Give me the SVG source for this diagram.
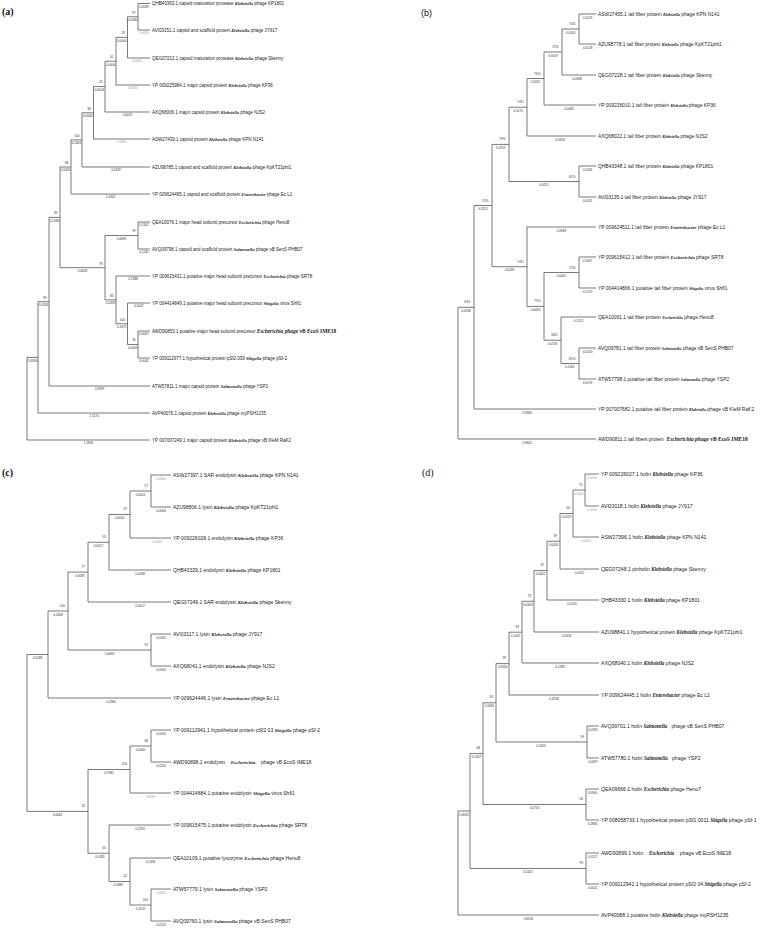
<svg xmlns="http://www.w3.org/2000/svg" width="762" height="928" viewBox="0 0 762 928">
<style>
.ln{fill:none;stroke:#555;stroke-width:0.8}
.tip{font-family:"Liberation Sans",Arial,sans-serif;fill:#222}
.ta{font-size:4.5px}.tb{font-size:4.9px}.tc{font-size:5px}.td{font-size:5.1px}
.g{font-family:"Liberation Serif","Times New Roman",serif;font-style:italic;font-weight:bold}
.gs{font-size:4.2px}
.gl{font-size:5.4px}
.r{font-family:"Liberation Serif","Times New Roman",serif;font-weight:bold}
.bs,.bl{font-family:"Liberation Sans",Arial,sans-serif;font-size:3.2px;fill:#333}
.bl{text-anchor:middle}.bs{text-anchor:end}
.z{fill:#999}
.pl{font-family:"Liberation Serif","Times New Roman",serif;font-size:10px;font-weight:bold;fill:#111}
.pls{font-family:"Liberation Sans",Arial,sans-serif;font-size:9px;fill:#111}
</style>
<rect width="762" height="928" fill="#fff"/>
<text class="pl" x="2" y="15">(a)</text>
<text class="pls" x="421" y="16">(b)</text>
<text class="pl" x="2" y="476">(c)</text>
<text class="pl" x="422" y="476" style="font-weight:normal">(d)</text>

<g id="connectors">
<path class="ln" d="M138 3.5H150M138 30H150M127.5 16.75H138M127.5 58H150M116 37.4H127.5M116 85H150M105 61.2H116M105 112H150M93.5 86.6H105M93.5 139H150M82 112.8H93.5M82 167H150M71 139.9H82M71 194H150M60 167H71M138 222H150M138 249H150M105 235.5H138M116 276H150M127.5 303H150M138 331H150M138 358H150M127.5 344.5H138M116 323.75H127.5M105 299.9H116M60 267.7H105M49 217.4H60M49 386H150M38 301.7H49M38 413H150M27 357.4H38M27 440H150
M138 3.5V30M127.5 16.75V58M116 37.4V85M105 61.2V112M93.5 86.6V139M82 112.8V167M71 139.9V194M138 222V249M138 331V358M127.5 303V344.5M116 276V323.75M105 235.5V299.9M60 167V267.7M49 217.4V386M38 301.7V413M27 357.4V440"/>
<path class="ln" d="M579 14H596M579 44H596M562 29H579M562 75H596M544 52H562M544 105H596M527 78.5H544M527 136H596M509 107.25H527M579 166H596M579 197H596M509 181.5H579M492 144.4H509M527 227H596M579 257H596M579 288H596M544 272.5H579M561 317H596M579 348H596M579 379H596M561 363.5H579M544 340.25H561M527 306.4H544M492 266.7H527M474 205.5H492M474 409H596M458 307.3H474M458 439H596
M579 14V44M562 29V75M544 52V105M527 78.5V136M579 166V197M509 107.25V181.5M579 257V288M579 348V379M561 317V363.5M544 272.5V340.25M527 227V306.4M492 144.4V266.7M474 205.5V409M458 307.3V439"/>
<path class="ln" d="M151 475H171M151 507H171M130 491H151M130 538H171M109 514.5H130M109 570H171M88 542.25H109M88 602H171M68 572.1H88M151 634H171M151 666H171M68 650H151M48 611H68M48 698H171M27 654.5H48M151 730H171M151 762H171M130 746H151M130 793H171M88 769.5H130M109 825H171M130 858H171M151 889H171M151 921H171M130 905H151M109 881.5H130M88 853.25H109M27 811.4H88
M151 475V507M130 491V538M109 514.5V570M88 542.25V602M151 634V666M68 572.1V650M48 611V698M151 730V762M130 746V793M151 889V921M130 858V905M109 825V881.5M88 769.5V853.25M27 654.5V811.4"/>
<path class="ln" d="M585 474H599M585 506H599M573 490H585M573 537H599M560 513.5H573M560 569H599M547 541.25H560M547 600H599M534 570.6H547M534 632H599M522 601.3H534M522 663H599M509 632.2H522M509 695H599M496 663.6H509M587 726H599M587 758H599M496 742H587M483 702.8H496M586 789H599M586 820H599M483 804.5H586M470 753.6H483M586 853H599M586 884H599M470 868.5H586M458 811H470M458 915H599
M585 474V506M573 490V537M560 513.5V569M547 541.25V600M534 570.6V632M522 601.3V663M509 632.2V695M587 726V758M496 663.6V742M586 789V820M483 702.8V804.5M586 853V884M470 753.6V868.5M458 811V915"/>
</g>

<g id="labels-a">
<text class="bs" x="135.5" y="13.5">97</text><text class="bs" x="125" y="34.2">29</text><text class="bs" x="113.5" y="58">41</text><text class="bs" x="102.5" y="83.4">42</text><text class="bs" x="91" y="109.6">66</text><text class="bs" x="79.5" y="136.7">100</text><text class="bs" x="68.5" y="163.8">86</text><text class="bs" x="57.5" y="214.2">89</text><text class="bs" x="135.5" y="232.3">99</text><text class="bs" x="102.5" y="264.5">78</text><text class="bs" x="113.5" y="296.7">83</text><text class="bs" x="125" y="320.5">100</text><text class="bs" x="135.5" y="341.3">76</text><text class="bs" x="46.5" y="298.5">39</text>
<text class="bl" x="144" y="7.8">0.0039</text><text class="bl z" x="144" y="34.3">0.0000</text><text class="bl" x="132.75" y="21">0.0080</text><text class="bl z" x="137" y="62.3">0.0000</text><text class="bl" x="121.75" y="41.7">0.0000</text><text class="bl z" x="133" y="89.3">0.0000</text><text class="bl" x="110.5" y="65.5">0.0004</text><text class="bl" x="127.5" y="116.3">0.0022</text><text class="bl" x="99.25" y="90.9">0.0004</text><text class="bl z" x="121.75" y="143.3">0.0000</text><text class="bl" x="87.75" y="117.1">0.0066</text><text class="bl" x="116" y="171.3">0.0149</text><text class="bl" x="76.5" y="144.2">0.2463</text><text class="bl" x="110.5" y="198.3">0.2402</text><text class="bl" x="65.5" y="171.3">0.0300</text><text class="bl" x="144" y="226.3">0.1302</text><text class="bl" x="144" y="253.3">0.1240</text><text class="bl" x="121.5" y="239.8">0.0839</text><text class="bl" x="133" y="280.3">0.1388</text><text class="bl" x="138.75" y="307.3">0.0047</text><text class="bl" x="144" y="335.3">0.0067</text><text class="bl" x="144" y="362.3">0.0041</text><text class="bl" x="132.75" y="348.8">0.0063</text><text class="bl" x="121.75" y="328">0.1672</text><text class="bl" x="110.5" y="304.2">0.0392</text><text class="bl" x="82.5" y="272">0.0633</text><text class="bl" x="54.5" y="221.7">0.2566</text><text class="bl" x="99.5" y="390.3">0.9969</text><text class="bl" x="43.5" y="306">0.0163</text><text class="bl" x="94" y="417.3">1.1174</text><text class="bl" x="32.5" y="361.7">0.0356</text><text class="bl" x="88.5" y="444.3">1.1830</text>
</g>
<g id="a-KP1801"><text class="tip ta" x="152" y="5.1">QHB43363.1 capsid maturation protease <tspan class="g">Klebsiella</tspan> phage KP1801</text></g>
<g id="a-JY917"><text class="tip ta" x="152" y="31.6">AVI03151.1 capsid and scaffold protein <tspan class="g">Klebsiella</tspan> phage JY917</text></g>
<g id="a-Skenny"><text class="tip ta" x="152" y="59.6">QEG07212.1 capsid maturation protease <tspan class="g">Klebsiella</tspan> phage Skenny</text></g>
<g id="a-KP36"><text class="tip ta" x="152" y="86.6">YP 009225984.1 major capsid protein <tspan class="g">Klebsiella</tspan> phage KP36</text></g>
<g id="a-NJS2"><text class="tip ta" x="152" y="113.6">AXQ68006.1 major capsid protein <tspan class="g">Klebsiella</tspan> phage NJS2</text></g>
<g id="a-KPNN141"><text class="tip ta" x="152" y="140.6">ASW27439.1 capsid protein <tspan class="g">Klebsiella</tspan> phage KPN N141</text></g>
<g id="a-KpKT21phi1"><text class="tip ta" x="152" y="168.6">AZU98785.1 capsid and scaffold protein <tspan class="g">Klebsiella</tspan> phage KpKT21phi1</text></g>
<g id="a-EcL1"><text class="tip ta" x="152" y="195.6">YP 009624495.1 capsid and scaffold protein <tspan class="g">Enterobacter</tspan> phage Ec L1</text></g>
<g id="a-Henu8"><text class="tip ta" x="152" y="223.6">QEA10076.1 major head subunit precursor <tspan class="g">Escherichia</tspan> phage Henu8</text></g>
<g id="a-PHB07"><text class="tip ta" x="152" y="250.6">AVQ09798.1 capsid and scaffold protein <tspan class="g">Salmonella</tspan> phage vB SenS PHB07</text></g>
<g id="a-SRT8"><text class="tip ta" x="152" y="277.6">YP 009615431.1 putative major head subunit precursor <tspan class="g">Escherichia</tspan> phage SRT8</text></g>
<g id="a-Shfl1"><text class="tip ta" x="152" y="304.6">YP 004414849.1 putative major head subunit precursor <tspan class="g">Shigella</tspan> virus Shfl1</text></g>
<g id="a-IME18"><text class="tip ta" x="152" y="332.6">AWD90853.1 putative major head subunit precursor <tspan class="g gl">Escherichia phage</tspan> <tspan class="r gl">vB EcoS IME18</tspan></text></g>
<g id="a-pSf2"><text class="tip ta" x="152" y="359.6">YP 009112977.1 hypothetical protein pSf2 039 <tspan class="g">Shigella</tspan> phage pSf-2</text></g>
<g id="a-YSP2"><text class="tip ta" x="152" y="387.6">ATW57811.1 major capsid protein <tspan class="g">Salmonella</tspan> phage YSP2</text></g>
<g id="a-myPSH1235"><text class="tip ta" x="152" y="414.6">AVP40076.1 capsid protein <tspan class="g">Klebsiella</tspan> phage myPSH1235</text></g>
<g id="a-RaK2"><text class="tip ta" x="152" y="441.6">YP 007007249.1 major capsid protein <tspan class="g">Klebsiella</tspan> phage vB KleM RaK2</text></g>

<g id="labels-b">
<text class="bs" x="575.5" y="25">74%</text><text class="bs" x="558.5" y="48">72%</text><text class="bs" x="540.5" y="74.5">76%</text><text class="bs" x="523.5" y="103.2">74%</text><text class="bs" x="575.5" y="177.5">81%</text><text class="bs" x="505.5" y="140.4">79%</text><text class="bs" x="575.5" y="268.5">72%</text><text class="bs" x="575.5" y="359.5">81%</text><text class="bs" x="557.5" y="336.2">34%</text><text class="bs" x="540.5" y="302.4">75%</text><text class="bs" x="523.5" y="262.7">74%</text><text class="bs" x="488.5" y="201.5">55%</text><text class="bs" x="470.5" y="303.3">33%</text>
<text class="bl" x="587.5" y="18.5">0.0129</text><text class="bl" x="587.5" y="48.5">0.0128</text><text class="bl" x="570.5" y="33.5">0.0163</text><text class="bl" x="577" y="79.5">0.0268</text><text class="bl" x="553" y="56.5">0.0019</text><text class="bl" x="569" y="109.5">0.0482</text><text class="bl" x="535.5" y="83">0.0025</text><text class="bl" x="560" y="140.5">0.0318</text><text class="bl" x="518" y="111.75">0.0170</text><text class="bl" x="587.5" y="170.5">0.0206</text><text class="bl" x="587.5" y="201.5">0.0201</text><text class="bl" x="544" y="186">0.0252</text><text class="bl" x="500.5" y="148.9">0.2922</text><text class="bl" x="561.5" y="231.5">0.2683</text><text class="bl" x="587.5" y="261.5">0.1667</text><text class="bl" x="587.5" y="292.5">0.1713</text><text class="bl" x="561.5" y="277">0.0410</text><text class="bl" x="578.5" y="321.5">0.1512</text><text class="bl" x="587.5" y="352.5">0.0145</text><text class="bl" x="587.5" y="383.5">0.0178</text><text class="bl" x="570" y="368">0.1361</text><text class="bl" x="552.5" y="344.75">0.0133</text><text class="bl" x="535.5" y="310.9">0.0403</text><text class="bl" x="509.5" y="271.2">0.0239</text><text class="bl" x="483" y="210">0.3212</text><text class="bl" x="527" y="413.5">0.9366</text><text class="bl" x="466" y="311.8">0.0236</text><text class="bl" x="527" y="443.5">0.9602</text>
</g>
<g id="b-KPNN141"><text class="tip tb" x="598" y="15.7">ASW27455.1 tail fiber protein <tspan class="g gs">Klebsiella</tspan> phage KPN N141</text></g>
<g id="b-KpKT21phi1"><text class="tip tb" x="598" y="45.7">AZU98778.1 tail fiber protein <tspan class="g gs">Klebsiella</tspan> phage KpKT21phi1</text></g>
<g id="b-Skenny"><text class="tip tb" x="598" y="76.7">QEG07228.1 tail fiber protein <tspan class="g gs">Klebsiella</tspan> phage Skenny</text></g>
<g id="b-KP36"><text class="tip tb" x="598" y="106.7">YP 009226010.1 tail fiber protein <tspan class="g gs">Klebsiella</tspan> phage KP36</text></g>
<g id="b-NJS2"><text class="tip tb" x="598" y="137.7">AXQ68022.1 tail fiber protein <tspan class="g gs">Klebsiella</tspan> phage NJS2</text></g>
<g id="b-KP1801"><text class="tip tb" x="598" y="167.7">QHB43348.1 tail fiber protein <tspan class="g gs">Klebsiella</tspan> phage KP1801</text></g>
<g id="b-JY917"><text class="tip tb" x="598" y="198.7">AVI03135.1 tail fiber protein <tspan class="g gs">Klebsiella</tspan> phage JY917</text></g>
<g id="b-EcL1"><text class="tip tb" x="598" y="228.7">YP 009624511.1 tail fiber protein <tspan class="g">Enterobacter</tspan> phage Ec L1</text></g>
<g id="b-SRT8"><text class="tip tb" x="598" y="258.7">YP 009615412.1 tail fiber protein <tspan class="g">Escherichia</tspan> phage SRT8</text></g>
<g id="b-Shfl1"><text class="tip tb" x="598" y="289.7">YP 004414866.1 putative tail fiber protein <tspan class="g gs">Shigella</tspan> virus Shfl1</text></g>
<g id="b-Henu8"><text class="tip tb" x="598" y="318.7">QEA10091.1 tail fiber protein <tspan class="g gs">Escherichia</tspan> phage Henu8</text></g>
<g id="b-PHB07"><text class="tip tb" x="598" y="349.7">AVQ09781.1 tail fiber protein <tspan class="g gs">Salmonella</tspan> phage vB SenS PHB07</text></g>
<g id="b-YSP2"><text class="tip tb" x="598" y="380.7">ATW57798.1 putative tail fiber protein <tspan class="g gs">Salmonella</tspan> phage YSP2</text></g>
<g id="b-RaK2"><text class="tip tb" x="598" y="410.7">YP 007007682.1 putative tail fiber protein <tspan class="g gs">Klebsiella</tspan> phage vB KleM RaK2</text></g>
<g id="b-IME18"><text class="tip tb" x="598" y="440.7" style="white-space:pre">AWD90811.1 tail fibers protein  <tspan class="g" style="font-size:5.5px">Escherichia phage</tspan> <tspan class="r" style="font-size:5.5px">vB EcoS IME18</tspan></text></g>

<g id="labels-c">
<text class="bs" x="148" y="486.5">17</text><text class="bs" x="127" y="510">27</text><text class="bs" x="106" y="537.75">55</text><text class="bs" x="85" y="567.6">77</text><text class="bs" x="148" y="645.5">92</text><text class="bs" x="65" y="606.5">100</text><text class="bs" x="148" y="741.5">68</text><text class="bs" x="127" y="765">100</text><text class="bs" x="148" y="900.5">100</text><text class="bs" x="127" y="877">52</text><text class="bs" x="106" y="848.75">45</text><text class="bs" x="85" y="806.9">53</text>
<text class="bl z" x="161" y="479.5">0.0000</text><text class="bl" x="161" y="511.5">0.0064</text><text class="bl" x="140.5" y="495.5">0.0001</text><text class="bl z" x="157" y="542.5">0.0000</text><text class="bl" x="119.5" y="519">0.0004</text><text class="bl" x="140" y="574.5">0.0038</text><text class="bl" x="98.5" y="546.75">0.0017</text><text class="bl" x="140" y="606.5">0.0107</text><text class="bl" x="80" y="576.6">0.0087</text><text class="bl" x="161" y="638.5">0.0002</text><text class="bl" x="161" y="670.5">0.0050</text><text class="bl" x="109.5" y="654.5">0.0092</text><text class="bl" x="58" y="615.5">0.2408</text><text class="bl" x="111" y="702.5">0.2384</text><text class="bl" x="37.5" y="659">0.0188</text><text class="bl" x="161" y="734.5">0.0026</text><text class="bl" x="161" y="766.5">0.0224</text><text class="bl" x="140.5" y="750.5">0.0065</text><text class="bl z" x="150.5" y="797.5">0.0000</text><text class="bl" x="109" y="774">0.1981</text><text class="bl" x="140" y="829.5">0.2294</text><text class="bl" x="150.5" y="862.5">0.1336</text><text class="bl z" x="161" y="893.5">0.0000</text><text class="bl" x="161" y="925.5">0.0124</text><text class="bl" x="140.5" y="909.5">0.2029</text><text class="bl" x="118" y="886">0.0389</text><text class="bl" x="100" y="857.75">0.0185</text><text class="bl" x="57.5" y="815.9">0.0062</text>
</g>
<g id="c-KPNN141"><text class="tip tc" x="173" y="476.8">ASW27397.1 SAR endolysin <tspan class="g">Klebsiella</tspan> phage KPN N141</text></g>
<g id="c-KpKT21phi1"><text class="tip tc" x="173" y="508.8">AZU98806.1 lysin <tspan class="g">Klebsiella</tspan> phage KpKT21phi1</text></g>
<g id="c-KP36"><text class="tip tc" x="173" y="539.8">YP 009226028.1 endolysin <tspan class="g">Klebsiella</tspan> phage KP36</text></g>
<g id="c-KP1801"><text class="tip tc" x="173" y="571.8">QHB43329.1 endolysin <tspan class="g">Klebsiella</tspan> phage KP1801</text></g>
<g id="c-Skenny"><text class="tip tc" x="173" y="603.8">QEG07249.1 SAR endolysin <tspan class="g">Klebsiella</tspan> phage Skenny</text></g>
<g id="c-JY917"><text class="tip tc" x="173" y="635.8">AVI03117.1 lysin <tspan class="g">Klebsiella</tspan> phage JY917</text></g>
<g id="c-NJS2"><text class="tip tc" x="173" y="667.8">AXQ68041.1 endolysin <tspan class="g">Klebsiella</tspan> phage NJS2</text></g>
<g id="c-EcL1"><text class="tip tc" x="173" y="699.8">YP 009624446.1 lysin <tspan class="g">Enterobacter</tspan> phage Ec L1</text></g>
<g id="c-pSf2"><text class="tip tc" x="173" y="731.8">YP 009112941.1 hypothetical protein pSf2 03 <tspan class="g">Shigella</tspan> phage pSf-2</text></g>
<g id="c-IME18"><text class="tip tc" x="173" y="763.8" style="white-space:pre">AWD90898.1 endolysin    <tspan class="g">Escherichia</tspan>    phage vB EcoS IME18</text></g>
<g id="c-Shfl1"><text class="tip tc" x="173" y="794.8">YP 004414884.1 putative endolysin <tspan class="g">Shigella</tspan> virus Shfl1</text></g>
<g id="c-SRT8"><text class="tip tc" x="173" y="826.8">YP 009615475.1 putative endolysin <tspan class="g">Escherichia</tspan> phage SRT8</text></g>
<g id="c-Henu8"><text class="tip tc" x="173" y="859.8">QEA10109.1 putative lysozyme <tspan class="g">Escherichia</tspan> phage Henu8</text></g>
<g id="c-YSP2"><text class="tip tc" x="173" y="890.8">ATW57779.1 lysin <tspan class="g">Salmonella</tspan> phage YSP2</text></g>
<g id="c-PHB07"><text class="tip tc" x="173" y="922.8">AVQ09760.1 lysin <tspan class="g">Salmonella</tspan> phage vB SenS PHB07</text></g>

<g id="labels-d">
<text class="bs" x="582.5" y="485.5">71</text><text class="bs" x="570" y="509">60</text><text class="bs" x="557" y="536.75">39</text><text class="bs" x="544" y="566.1">47</text><text class="bs" x="531" y="596.8">73</text><text class="bs" x="519" y="627.7">93</text><text class="bs" x="506" y="659.1">39</text><text class="bs" x="584" y="737.5">99</text><text class="bs" x="493" y="698.3">34</text><text class="bs" x="583" y="800">56</text><text class="bs" x="480" y="749.1">48</text><text class="bs" x="583" y="864">99</text>
<text class="bl z" x="592" y="478.5">0.0000</text><text class="bl z" x="592" y="510.5">0.0000</text><text class="bl z" x="579" y="494.5">0.0000</text><text class="bl z" x="586" y="541.5">0.0000</text><text class="bl" x="566.5" y="518">0.0129</text><text class="bl" x="579.5" y="573.5">0.0012</text><text class="bl" x="553.5" y="545.75">0.0030</text><text class="bl" x="572" y="604.5">0.0120</text><text class="bl" x="540.5" y="575.1">0.0052</text><text class="bl" x="566.5" y="636.5">0.0323</text><text class="bl" x="528" y="605.8">0.0309</text><text class="bl" x="560" y="667.5">0.1289</text><text class="bl" x="515.5" y="636.7">0.1007</text><text class="bl" x="554" y="699.5">0.3234</text><text class="bl" x="502.5" y="668.1">0.0556</text><text class="bl" x="593" y="730.5">0.0335</text><text class="bl" x="593" y="762.5">0.0097</text><text class="bl" x="541" y="746.5">0.2405</text><text class="bl" x="489.5" y="707.3">0.0681</text><text class="bl" x="592.5" y="793.5">0.0940</text><text class="bl" x="592.5" y="824.5">0.2884</text><text class="bl" x="534.5" y="809">0.0716</text><text class="bl" x="476.5" y="758.1">0.1007</text><text class="bl" x="592.5" y="857.5">0.0117</text><text class="bl" x="592.5" y="888.5">0.0025</text><text class="bl" x="528" y="873">0.2425</text><text class="bl" x="464" y="815.5">0.3032</text><text class="bl" x="528.5" y="919.5">0.6531</text>
</g>
<g id="d-KP36"><text class="tip td" x="601" y="475.8">YP 009226027.1 holin <tspan class="g">Klebsiella</tspan> phage KP36</text></g>
<g id="d-JY917"><text class="tip td" x="601" y="507.8">AVI03118.1 holin <tspan class="g">Klebsiella</tspan> phage JY917</text></g>
<g id="d-KPNN141"><text class="tip td" x="601" y="538.8">ASW27396.1 holin <tspan class="g">Klebsiella</tspan> phage KPN N141</text></g>
<g id="d-Skenny"><text class="tip td" x="601" y="570.8">QEG07248.1 pinholin <tspan class="g">Klebsiella</tspan> phage Skenny</text></g>
<g id="d-KP1801"><text class="tip td" x="601" y="601.8">QHB43330.1 holin <tspan class="g">Klebsiella</tspan> phage KP1801</text></g>
<g id="d-KpKT21phi1"><text class="tip td" x="601" y="633.8">AZU98841.1 hypothetical protein <tspan class="g">Klebsiella</tspan> phage KpKT21phi1</text></g>
<g id="d-NJS2"><text class="tip td" x="601" y="664.8">AXQ68040.1 holin <tspan class="g">Klebsiella</tspan> phage NJS2</text></g>
<g id="d-EcL1"><text class="tip td" x="601" y="696.8">YP 009624445.1 holin <tspan class="g">Enterobacter</tspan> phage Ec L1</text></g>
<g id="d-PHB07"><text class="tip td" x="601" y="727.8" style="white-space:pre">AVQ09701.1 holin <tspan class="g">Salmonella</tspan>   phage vB SenS PHB07</text></g>
<g id="d-YSP2"><text class="tip td" x="601" y="759.8" style="white-space:pre">ATW57780.1 holin <tspan class="g">Salmonella</tspan>   phage YSP2</text></g>
<g id="d-Henu7"><text class="tip td" x="601" y="790.8">QEA09666.1 holin <tspan class="g">Escherichia</tspan> phage Henu7</text></g>
<g id="d-pSf1"><text class="tip td" x="601" y="821.8">YP 008058733.1 hypothetical protein pSf1 0011 <tspan class="g">Shigella</tspan> phage pSf-1</text></g>
<g id="d-IME18"><text class="tip td" x="601" y="854.8" style="white-space:pre">AWD90899.1 holin    <tspan class="g">Escherichia</tspan>    phage vB EcoS IME18</text></g>
<g id="d-pSf2"><text class="tip td" x="601" y="885.8">YP 009112942.1 hypothetical protein pSf2 04 <tspan class="g">Shigella</tspan> phage pSf-2</text></g>
<g id="d-myPSH1235"><text class="tip td" x="601" y="916.8">AVP40088.1 putative holin <tspan class="g">Klebsiella</tspan> phage myPSH1235</text></g>
</svg>
